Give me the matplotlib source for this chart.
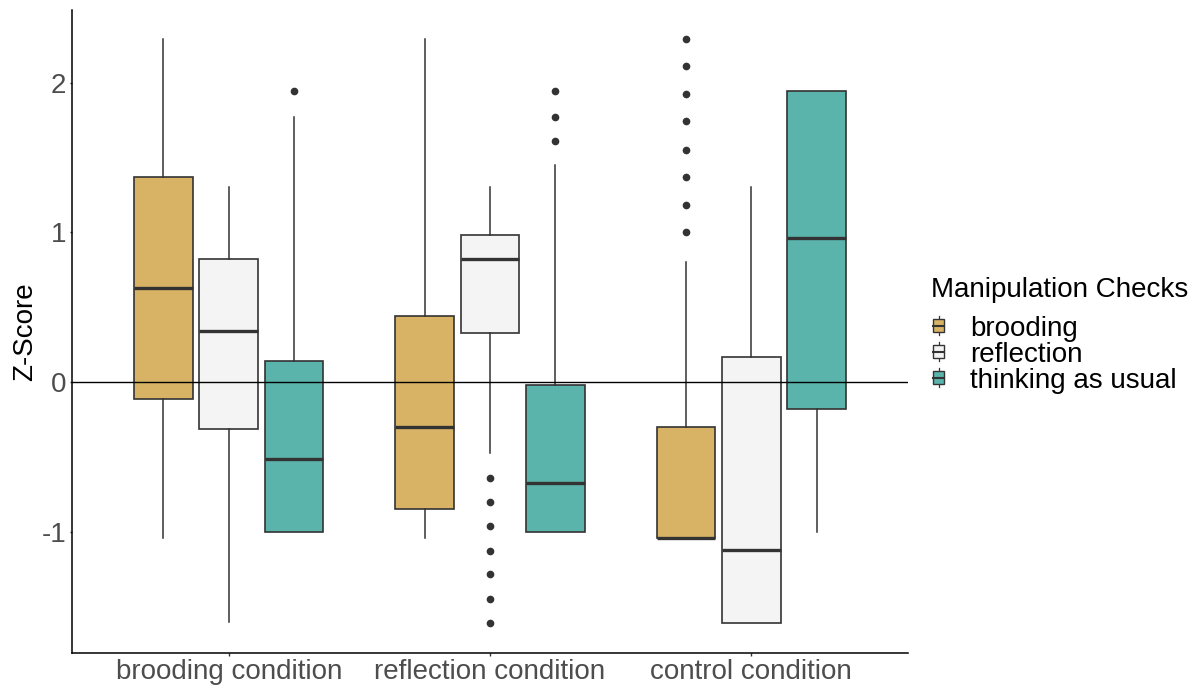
import matplotlib
matplotlib.use("Agg")
import matplotlib.pyplot as plt
from matplotlib.legend_handler import HandlerBase
from matplotlib.patches import Rectangle
from matplotlib.lines import Line2D

plt.rcParams['font.family'] = ['Liberation Sans', 'DejaVu Sans']

# ---------------- data ----------------
conditions = ["brooding condition", "reflection condition", "control condition"]
groups = ["brooding", "reflection", "thinking as usual"]
colors = ["#D8B365", "#F4F4F4", "#5AB4AC"]

# rows = groups (brooding, reflection, thinking as usual); columns = conditions
whislo = [[-1.04, -1.04, -1.04],
          [-1.60, -0.47, -1.61],
          [-1.00, -1.00, -1.00]]
q1 = [[-0.11, -0.85, -1.04],
      [-0.31, 0.33, -1.61],
      [-1.00, -1.00, -0.18]]
med = [[0.63, -0.30, -1.04],
       [0.34, 0.82, -1.12],
       [-0.51, -0.67, 0.96]]
q3 = [[1.37, 0.44, -0.30],
      [0.82, 0.98, 0.17],
      [0.14, -0.02, 1.94]]
whishi = [[2.29, 2.29, 0.80],
          [1.30, 1.30, 1.30],
          [1.77, 1.45, 1.94]]
fliers = [[[], [], [1.00, 1.18, 1.37, 1.55, 1.74, 1.92, 2.11, 2.29]],
          [[], [-0.64, -0.80, -0.96, -1.13, -1.28, -1.45, -1.61], []],
          [[1.94], [1.61, 1.77, 1.94], []]]

yticks = [-1, 0, 1, 2]
ytick_labels = ["-1", "0", "1", "2"]

# ---------------- figure ----------------
fig = plt.figure(figsize=(11.97, 6.88), dpi=100)
ax = fig.add_axes([72 / 1197, 1 - 653 / 688, (908 - 72) / 1197, (653 - 10) / 688])

edge = "#333333"
dodge = 0.25
bw = 0.225
for g in range(len(groups)):
    stats = []
    positions = []
    for c in range(len(conditions)):
        stats.append(dict(med=med[g][c], q1=q1[g][c], q3=q3[g][c],
                          whislo=whislo[g][c], whishi=whishi[g][c],
                          fliers=fliers[g][c]))
        positions.append(c + 1 + (g - 1) * dodge)
    ax.bxp(stats, positions=positions, widths=bw, showcaps=False,
           patch_artist=True, manage_ticks=False,
           boxprops=dict(facecolor=colors[g], edgecolor=edge, linewidth=1.2),
           medianprops=dict(color=edge, linewidth=2.4, solid_capstyle='butt'),
           whiskerprops=dict(color=edge, linewidth=1.1),
           flierprops=dict(marker='o', markerfacecolor=edge, markeredgecolor=edge,
                           markersize=4.5, linestyle='none'))

ax.axhline(0, color="black", linewidth=1.0, zorder=10)

ax.set_xlim(0.4, 3.6)
ax.set_ylim(-1.808, 2.484)
ax.set_xticks([1, 2, 3])
ax.set_xticklabels(conditions)
ax.set_yticks(yticks)
ax.set_yticklabels(ytick_labels)
ax.tick_params(axis='both', labelsize=20, colors="#333333", labelcolor="#4D4D4D",
               length=1.8, width=1.0)
ax.tick_params(axis='x', pad=2.5)
ax.tick_params(axis='y', pad=2.2)
for s in ["top", "right"]:
    ax.spines[s].set_visible(False)
for s in ["left", "bottom"]:
    ax.spines[s].set_color("black")
    ax.spines[s].set_linewidth(1.1)
ax.set_ylabel("Z-Score", fontsize=20, color="black", labelpad=2.5)


class BoxHandler(HandlerBase):
    def __init__(self, color):
        super().__init__()
        self.color = color

    def create_artists(self, legend, orig_handle, xdescent, ydescent, width, height, fontsize, trans):
        cx = width / 2 - xdescent
        cy = height / 2 - ydescent
        bwid = 8.0
        bh = 9.0
        line = Line2D([cx, cx], [cy - 7.0, cy + 7.0], color=edge, linewidth=0.9, transform=trans)
        rect = Rectangle((cx - bwid / 2, cy - bh / 2), bwid, bh,
                         facecolor=self.color, edgecolor=edge, linewidth=1.0, transform=trans)
        medl = Line2D([cx - bwid / 2, cx + bwid / 2], [cy, cy], color=edge,
                      linewidth=1.5, transform=trans)
        return [line, rect, medl]


handles = [Rectangle((0, 0), 1, 1, facecolor=c) for c in colors]
leg = fig.legend(handles, groups, loc="center left", bbox_to_anchor=(931 / 1197, 1 - 354.5 / 688),
                 frameon=False, fontsize=20,
                 handlelength=0.55, handleheight=0.6, handletextpad=0.85,
                 labelspacing=0.0, borderpad=0, borderaxespad=0,
                 handler_map={handles[i]: BoxHandler(colors[i]) for i in range(3)})
fig.text(931 / 1197, 1 - 290 / 688, "Manipulation Checks", fontsize=20, color="black",
         ha="left", va="center")

fig.savefig("out.png", dpi=100)
